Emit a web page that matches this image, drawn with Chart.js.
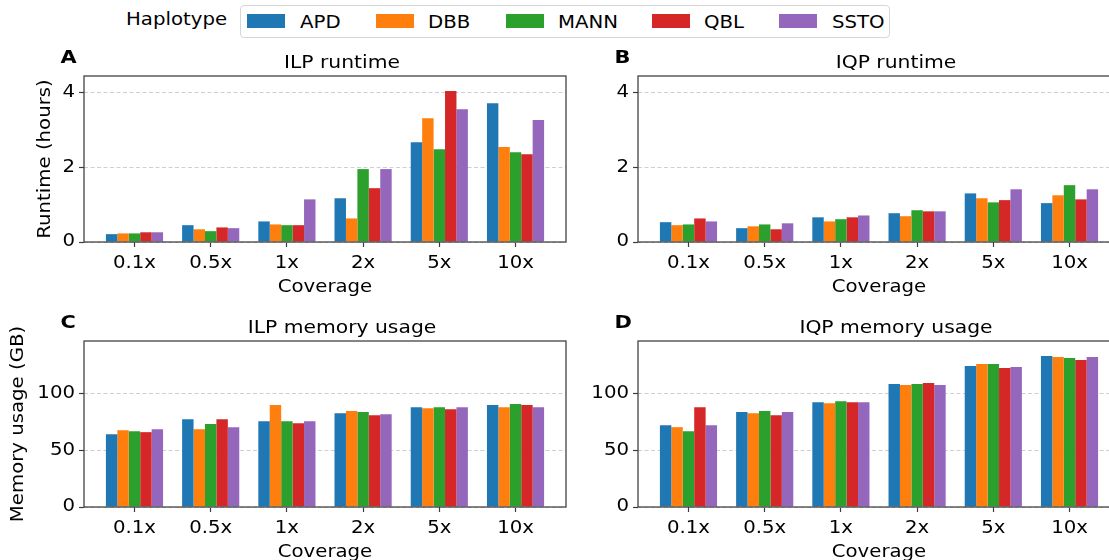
<!DOCTYPE html>
<html><head><meta charset="utf-8">
<script src="https://cdn.jsdelivr.net/npm/chart.js@4.4.1/dist/chart.umd.min.js"></script>
<style>
html,body{margin:0;padding:0;background:#fff;overflow:hidden;width:1109px;height:560px;}
body{position:relative;font-family:"DejaVu Sans",sans-serif;color:#000;}
canvas{position:absolute;display:block;}
#legendBox{position:absolute;left:240px;top:5px;width:650px;height:33px;border:1px solid #d6d6d6;border-radius:4px;box-sizing:border-box;}
.lt{position:absolute;font-size:17px;line-height:20px;white-space:nowrap;color:#000;transform:scaleX(1.16);transform-origin:0 0;}
.patch{position:absolute;width:38px;height:14px;top:14px;}
</style></head>
<body>
<div id="legendBox"></div>
<div id="legendItems"></div>
<canvas id="cA" width="580" height="270" style="left:0;top:40px"></canvas>
<canvas id="cB" width="580" height="270" style="left:554px;top:40px"></canvas>
<canvas id="cC" width="580" height="270" style="left:0;top:305px"></canvas>
<canvas id="cD" width="580" height="270" style="left:554px;top:305px"></canvas>
<script>
// ---- data ----
const categories = ['0.1x', '0.5x', '1x', '2x', '5x', '10x'];
const haplotypes = ['APD', 'DBB', 'MANN', 'QBL', 'SSTO'];
const colors = ['#1f77b4', '#ff7f0e', '#2ca02c', '#d62728', '#9467bd'];
const legendTitle = 'Haplotype';

// rows follow haplotypes, columns follow categories
const ilpRuntime = [
  [0.21, 0.45, 0.55, 1.17, 2.67, 3.71],
  [0.23, 0.34, 0.47, 0.63, 3.31, 2.54],
  [0.23, 0.29, 0.45, 1.95, 2.48, 2.40],
  [0.26, 0.39, 0.45, 1.44, 4.04, 2.35],
  [0.26, 0.37, 1.14, 1.95, 3.55, 3.26]
];
const iqpRuntime = [
  [0.53, 0.37, 0.66, 0.77, 1.30, 1.04],
  [0.45, 0.42, 0.55, 0.69, 1.17, 1.25],
  [0.47, 0.47, 0.61, 0.85, 1.06, 1.52],
  [0.63, 0.34, 0.66, 0.82, 1.12, 1.14],
  [0.55, 0.50, 0.71, 0.82, 1.41, 1.41]
];
const ilpMemory = [
  [64.3, 77.6, 75.8, 82.9, 88.2, 90.0],
  [67.8, 68.7, 90.0, 84.7, 87.3, 88.2],
  [67.0, 73.2, 75.8, 83.8, 88.2, 90.9],
  [66.1, 77.6, 74.0, 81.1, 86.4, 90.0],
  [68.7, 70.5, 75.8, 82.0, 88.2, 88.2]
];
const iqpMemory = [
  [72.3, 83.8, 92.6, 108.6, 124.5, 133.3],
  [70.5, 82.9, 91.7, 107.7, 126.3, 132.4],
  [67.0, 84.7, 93.5, 108.6, 126.3, 131.6],
  [88.2, 81.1, 92.6, 109.4, 122.7, 129.8],
  [72.3, 83.8, 92.6, 107.7, 123.6, 132.4]
];
const runtimeTicks = [0, 2, 4];
const memoryTicks = [0, 50, 100];
const runtimeMax = 4.44;
const memoryMax = 146.6;

// ---- legend (HTML) ----
const patchLeft = [247, 376, 506, 652, 779];
const textLeft = [300, 427.5, 557.5, 704, 832];
(function(){
  const box = document.getElementById('legendItems');
  let h = '<div class="lt" style="left:125.5px;top:9px">' + legendTitle + '</div>';
  haplotypes.forEach((n, i) => {
    h += '<div class="patch" style="left:' + patchLeft[i] + 'px;background:' + colors[i] + '"></div>';
    h += '<div class="lt" style="left:' + textLeft[i] + 'px;top:11.5px">' + n + '</div>';
  });
  box.innerHTML = h;
})();

const FAM = '"DejaVu Sans", sans-serif';
const TEXT_SX = 1.16; // glyphs in the reference are wider than tall

function stretchText(ctx, sx) {
  const orig = ctx.fillText.bind(ctx);
  ctx.fillText = function(text, x, y) {
    ctx.save();
    ctx.translate(x, y);
    ctx.scale(sx, 1);
    orig(text, 0, 0);
    ctx.restore();
  };
}

const panelPlugin = {
  id: 'panel',
  afterDraw(chart, args, opts) {
    const {ctx, chartArea: a} = chart;
    ctx.save();
    ctx.strokeStyle = '#3c3c3c';
    ctx.lineWidth = 1.25;
    ctx.strokeRect(a.left, a.top, a.right - a.left, a.bottom - a.top);
    ctx.fillStyle = '#000';
    ctx.textBaseline = 'alphabetic';
    ctx.textAlign = 'center';
    ctx.font = '17.5px ' + FAM;
    ctx.fillText(opts.title, (a.left + a.right) / 2 + 17, a.top - 8);
    ctx.textAlign = 'left';
    ctx.font = 'bold 18px ' + FAM;
    ctx.fillText(opts.letter, a.left - 23.5, a.top - 13.5);
    ctx.restore();
  }
};

function makeChart(id, values, yMax, yTicks, yTitle, yTitlePad, title, letter) {
  const canvas = document.getElementById(id);
  stretchText(canvas.getContext('2d'), TEXT_SX);
  const datasets = haplotypes.map((n, j) => ({
    label: n,
    data: categories.map((c, i) => ({x: i, y: values[j][i]})),
    backgroundColor: colors[j],
    borderWidth: 0,
    categoryPercentage: 0.75,
    barPercentage: 1.0
  }));
  return new Chart(canvas, {
    type: 'bar',
    data: {datasets},
    plugins: [panelPlugin],
    options: {
      responsive: false,
      animation: false,
      events: [],
      layout: {padding: {top: 36, right: 14, bottom: 0, left: 0}},
      plugins: {
        legend: {display: false},
        tooltip: {enabled: false},
        panel: {title, letter}
      },
      scales: {
        x: {
          type: 'linear',
          min: -0.6625,
          max: 5.6625,
          offset: false,
          afterBuildTicks: s => { s.ticks = categories.map((c, i) => ({value: i})); },
          afterFit: s => { s.height = 68; },
          ticks: {
            callback: v => categories[v],
            autoSkip: false, maxRotation: 0, minRotation: 0,
            padding: 6, color: '#000', font: {size: 17, family: FAM}
          },
          grid: {drawOnChartArea: false, drawTicks: true, tickLength: 5, tickColor: '#3c3c3c', tickWidth: 1.2, offset: false},
          border: {display: false},
          title: {display: true, text: 'Coverage', color: '#000', font: {size: 17, family: FAM}, padding: {top: 0, bottom: 12.5}}
        },
        y: {
          type: 'linear',
          min: 0,
          max: yMax,
          afterBuildTicks: s => { s.ticks = yTicks.map(v => ({value: v})); },
          afterFit: s => { s.width = 84; },
          ticks: {padding: 4, color: '#000', font: {size: 17, family: FAM}},
          grid: {color: '#cfcfcf', lineWidth: 1, drawTicks: true, tickLength: 5, tickColor: '#3c3c3c', tickWidth: 1.2},
          border: {display: false, dash: [4, 2.5]},
          title: {display: !!yTitle, text: yTitle || '', color: '#000', font: {size: 17, family: FAM}, padding: {top: yTitlePad, bottom: 0}}
        }
      }
    }
  });
}

makeChart('cA', ilpRuntime, runtimeMax, runtimeTicks, 'Runtime (hours)', 35.8, 'ILP runtime', 'A');
makeChart('cB', iqpRuntime, runtimeMax, runtimeTicks, '', 0, 'IQP runtime', 'B');
makeChart('cC', ilpMemory, memoryMax, memoryTicks, 'Memory usage (GB)', 8.8, 'ILP memory usage', 'C');
makeChart('cD', iqpMemory, memoryMax, memoryTicks, '', 0, 'IQP memory usage', 'D');
</script>
</body></html>
